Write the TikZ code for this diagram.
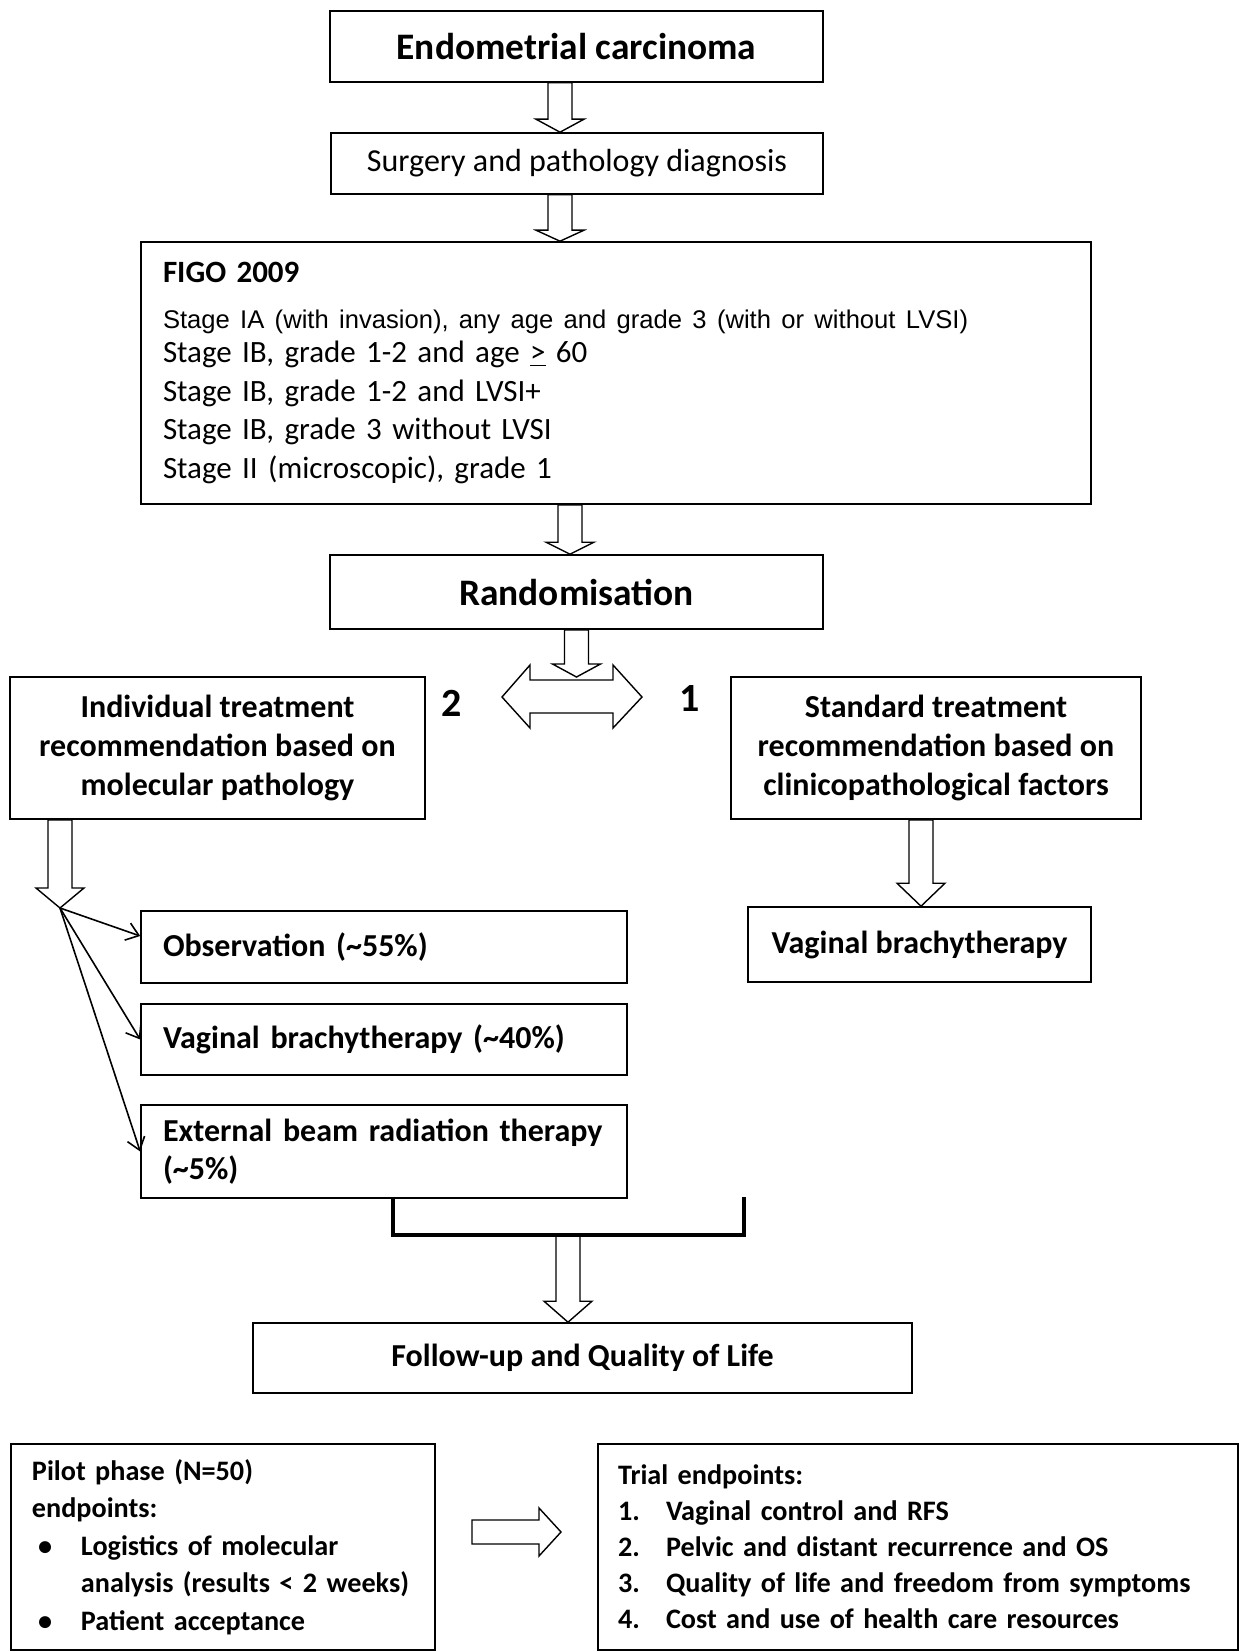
\documentclass[tikz,border=0pt]{standalone}
\usepackage{fontspec}
\setmainfont{Carlito}
\newfontfamily\arialfont{Liberation Sans}
\usetikzlibrary{calc,arrows.meta}

% hollow block arrow from #2 to #3, head length #1
\newcommand\blockarrow[3][11pt]{%
  \coordinate (ba-s) at (#2);
  \coordinate (ba-e) at (#3);
  \coordinate (ba-h) at ($(ba-e)!#1!(ba-s)$);
  \draw[blockline] ($(ba-s)!6pt!90:(ba-e)$) -- ($(ba-h)!6pt!90:(ba-e)$)
    -- ($(ba-h)!12pt!90:(ba-e)$) -- (ba-e) -- ($(ba-h)!12pt!-90:(ba-e)$)
    -- ($(ba-h)!6pt!-90:(ba-e)$) -- ($(ba-s)!6pt!-90:(ba-e)$) -- cycle;
}

\begin{document}
\begin{tikzpicture}[x=0.5pt, y=-0.5pt,
    box/.style={draw, line width=0.8pt, inner sep=0pt, align=center,
      font=\fontsize{16}{19.5}\selectfont},
    boldbox/.style={box, font=\fontsize{16}{19.5}\selectfont\bfseries},
    leftbox/.style={boldbox, align=left, inner xsep=11pt},
    notebox/.style={leftbox, font=\fontsize{14.1}{18.75}\selectfont\bfseries},
    titlebox/.style={box, font=\fontsize{18.7}{22}\selectfont\bfseries},
    numlabel/.style={font=\fontsize{20}{24}\selectfont\bfseries, inner sep=0pt},
    blockline/.style={line width=0.7pt, fill=white},
    fanline/.style={line width=0.8pt, -{Straight Barb[length=6pt, width=9pt, line width=0.8pt]}},
    bracket/.style={line width=1.6pt}]
  \useasboundingbox (0,0) rectangle (1239,1652);

  % Nodes (boxes)
  \node[titlebox, minimum width=246.5pt, minimum height=35.5pt] (endo) at (576.5,46.5) {Endometrial carcinoma};
  \node[box, minimum width=246pt, minimum height=30.5pt] (surg) at (577,163.5) {Surgery and pathology diagnosis};
  \node[leftbox, font=\fontsize{15.5}{19.25}\selectfont, text width=453pt, minimum height=131pt] (figo) at (616,373) {%
    \textbf{FIGO 2009}\\[3.5pt]
    {\arialfont\fontsize{12.8}{14}\selectfont Stage IA (with invasion), any age and grade 3 (with or without LVSI)}\\[-2pt]
    Stage IB, grade 1-2 and age \underline{>} 60\\
    Stage IB, grade 1-2 and LVSI+\\
    Stage IB, grade 3 without LVSI\\
    Stage II (microscopic), grade 1};
  \node[titlebox, minimum width=246.5pt, minimum height=37pt] (rand) at (576.5,592) {Randomisation};
  \node[boldbox, minimum width=207.5pt, minimum height=71pt] (indiv) at (217.5,748)
    {Individual treatment\\ recommendation based on\\ molecular pathology};
  \node[boldbox, minimum width=205pt, minimum height=71pt] (std) at (936,748)
    {Standard treatment\\ recommendation based on\\ clinicopathological factors};
  \node[numlabel] (two) at (452,703) {2};
  \node[numlabel] (one) at (690,699) {1};
  \node[boldbox, minimum width=171.5pt, minimum height=37.5pt] (vbstd) at (919.5,944.5) {Vaginal brachytherapy};
  \node[leftbox, text width=221pt, minimum height=36pt] (obs) at (384,947) {Observation (\textasciitilde 55\%)};
  \node[leftbox, text width=221pt, minimum height=35.5pt] (vb40) at (384,1039.5) {Vaginal brachytherapy (\textasciitilde 40\%)};
  \node[leftbox, font=\fontsize{16}{19}\selectfont\bfseries, text width=221pt, minimum height=46.5pt] (ext) at (384,1151.5) {External beam radiation therapy\\ (\textasciitilde 5\%)};
  \node[boldbox, minimum width=329.5pt, minimum height=35pt] (follow) at (582.5,1358) {Follow-up and Quality of Life};
  \node[notebox, inner xsep=10.5pt, text width=191pt, minimum height=103pt] (pilot) at (223,1547) {%
    Pilot phase (N=50)\\
    endpoints:\\
    \hspace*{3pt}\makebox[21.5pt][l]{•}Logistics of molecular\\
    \hspace*{24.5pt}analysis (results < 2 weeks)\\
    \hspace*{3pt}\makebox[21.5pt][l]{•}Patient acceptance};
  \node[notebox, font=\fontsize{14.1}{18}\selectfont\bfseries, inner xsep=10pt, text width=300pt, minimum height=103pt] (trial) at (918,1547) {%
    Trial endpoints:\\
    \makebox[24pt][l]{1.}Vaginal control and RFS\\
    \makebox[24pt][l]{2.}Pelvic and distant recurrence and OS\\
    \makebox[24pt][l]{3.}Quality of life and freedom from symptoms\\
    \makebox[24pt][l]{4.}Cost and use of health care resources};

  % Helper coordinates
  \coordinate (c1) at (560,0);
  \coordinate (c3) at (570,0);
  \coordinate (c5) at (921,0);
  \coordinate (dbl) at (576.5,677);
  \coordinate (fan) at (60,908);
  \coordinate (brl) at (393,1235);
  \coordinate (brr) at (744,1235);
  \coordinate (brtop) at (744,1197);
  \coordinate (join) at (568,1235);
  \coordinate (ha) at (472,1532);
  \coordinate (hb) at (561,1532);

  % Block arrows
  \blockarrow[6.5pt]{endo.south -| c1}{surg.north -| c1}
  \blockarrow[5.5pt]{surg.south -| c1}{figo.north -| c1}
  \blockarrow[6pt]{figo.south -| c3}{rand.north -| c3}
  \draw[blockline] (502,697) -- (530,665) -- (530,680) -- (613,680) -- (613,665) -- (642,697)
    -- (613,728) -- (613,713) -- (530,713) -- (530,728) -- cycle;
  \blockarrow[6.5pt]{rand.south}{dbl}
  \blockarrow[10pt]{indiv.south -| fan}{fan}
  \blockarrow[11.5pt]{std.south -| c5}{vbstd.north -| c5}
  \blockarrow[10.5pt]{join}{follow.north -| join}
  \blockarrow[11pt]{ha}{hb}

  % Fan arrows
  \draw[fanline] (fan) -- ([yshift=5.5pt]obs.west);
  \draw[fanline] (fan) -- (vb40.west);
  \draw[fanline] (fan) -- (ext.west);

  % Bracket
  \draw[bracket] (ext.south -| brl) -- (brl) -- (brr) -- (brtop);
\end{tikzpicture}
\end{document}
